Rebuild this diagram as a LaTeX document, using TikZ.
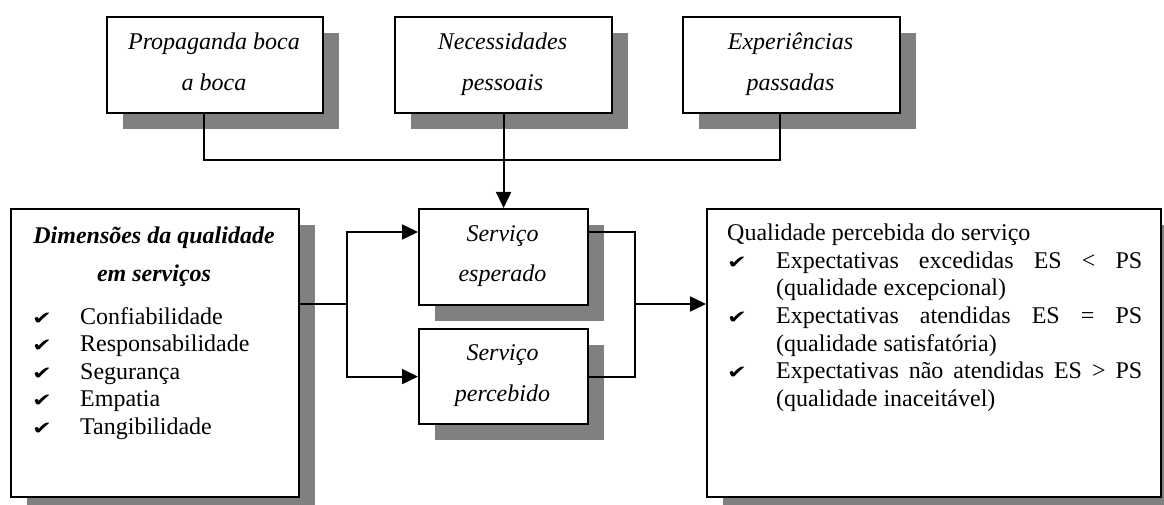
\documentclass[tikz,border=0pt]{standalone}
\usepackage{fontspec}
\usepackage{graphicx}
\setmainfont{Liberation Serif}
\newfontfamily\symfont{DejaVu Sans}
\usetikzlibrary{arrows.meta,shadows}
\definecolor{shadowgray}{gray}{0.5}
\newcommand\chk{\scalebox{1.25}[0.95]{\symfont\fontsize{19}{19}\selectfont ✔}}

\begin{document}
\begin{tikzpicture}[x=1pt,y=-1pt,
  box/.style={draw, line width=2.2pt, fill=white, anchor=north west, inner sep=0pt,
    drop shadow={shadow xshift=16pt, shadow yshift=-16pt, fill=shadowgray, opacity=1}},
  conn/.style={line width=1.8pt},
  arr/.style={conn, -{Triangle[length=16pt,width=15pt]}},
  itlabel/.style={anchor=base, inner sep=0pt, font=\itshape\fontsize{24}{28}\selectfont},
  title/.style={anchor=base, inner sep=0pt, font=\bfseries\itshape\fontsize{24}{28}\selectfont},
  txt/.style={anchor=base west, inner sep=0pt, font=\fontsize{24}{28}\selectfont},
  tick/.style={anchor=base west, inner sep=0pt}
]
\useasboundingbox (0,0) rectangle (1164,505);

% boxes
\node[box, minimum width=216pt, minimum height=96pt] (p1) at (106,16) {};
\node[box, minimum width=217pt, minimum height=96pt] (p2) at (394,16) {};
\node[box, minimum width=217pt, minimum height=96pt] (p3) at (682,16) {};
\node[box, minimum width=169pt, minimum height=96pt] (esp) at (418,208) {};
\node[box, minimum width=169pt, minimum height=95pt] (per) at (418,328) {};
\node[box, minimum width=288pt, minimum height=288pt] (dim) at (10,208) {};
\node[box, minimum width=454pt, minimum height=288pt] (qual) at (706,208) {};

% labels of the three upper boxes
\node[itlabel] (t1a) at (214,49.3) {Propaganda boca};
\node[itlabel] (t1b) at (214,90.5) {a boca};
\node[itlabel] (t2a) at (502.5,49.3) {Necessidades};
\node[itlabel] (t2b) at (502.5,90.5) {pessoais};
\node[itlabel] (t3a) at (790.5,49.3) {Experiências};
\node[itlabel] (t3b) at (790.5,90.5) {passadas};

% middle boxes
\node[itlabel] (e1) at (502.5,241.5) {Serviço};
\node[itlabel] (e2) at (502.5,281.5) {esperado};
\node[itlabel] (r1) at (502.5,360.5) {Serviço};
\node[itlabel] (r2) at (502.5,401) {percebido};

% dimensions box
\node[title] (h1) at (154,243) {Dimensões da qualidade};
\node[title] (h2) at (154,281) {em serviços};
\foreach \t [count=\i] in {Confiabilidade,Responsabilidade,Segurança,Empatia,Tangibilidade} {
  \node[tick] (dk\i) at (32,{324+27.6*(\i-1)}) {\chk};
  \node[txt] (dt\i) at (80,{324+27.6*(\i-1)}) {\t};
}

% perceived quality box
\node[txt] (q0) at (727,240.7) {Qualidade percebida do serviço};
\node[tick] (qk1) at (727,268.3) {\chk};
\node[txt] (q1) at (776,268.3) {\makebox[366pt][s]{Expectativas excedidas ES < PS}};
\node[txt] (q2) at (776,295.9) {(qualidade excepcional)};
\node[tick] (qk2) at (727,323.5) {\chk};
\node[txt] (q3) at (776,323.5) {\makebox[366pt][s]{Expectativas atendidas ES = PS}};
\node[txt] (q4) at (776,351.1) {(qualidade satisfatória)};
\node[tick] (qk3) at (727,378.7) {\chk};
\node[txt] (q5) at (776,378.7) {\makebox[366pt][s]{Expectativas não atendidas ES > PS}};
\node[txt] (q6) at (776,406.3) {(qualidade inaceitável)};

% connectors
\coordinate (d1) at ([xshift=-11pt]p1.south);
\coordinate (d3) at ([xshift=-11.5pt]p3.south);
\coordinate (bus) at (0,160);
\draw[conn] (d1) -- (d1 |- bus) -- (d3 |- bus) -- (d3);
\draw[arr] (p2.south) -- (esp.north);

\coordinate (ya) at (0,232);
\coordinate (sp) at (347,304);
\draw[conn] (dim.east |- sp) -- (sp);
\draw[arr] (sp) |- (esp.west |- ya);
\draw[arr] (sp) |- (per.west);

\coordinate (jn) at (635,304);
\draw[conn] (esp.east |- ya) -| (jn);
\draw[conn] (per.east) -| (jn);
\draw[arr] (jn) -- (qual.west |- jn);
\end{tikzpicture}
\end{document}
